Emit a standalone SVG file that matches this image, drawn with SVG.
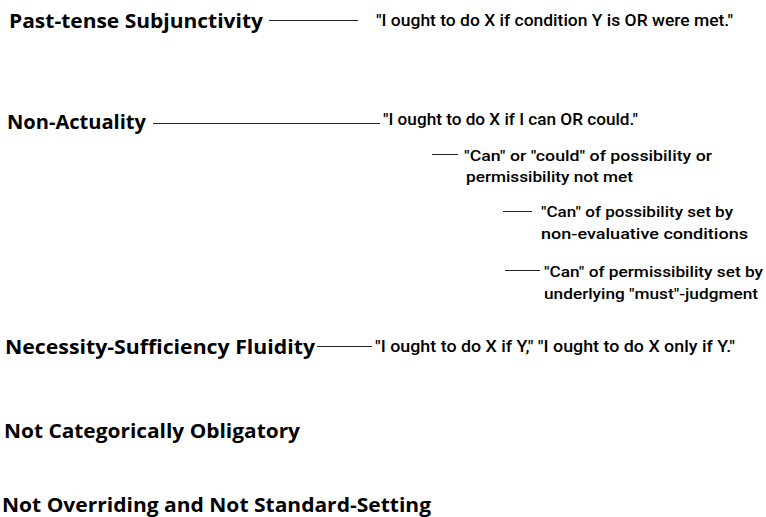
<svg xmlns="http://www.w3.org/2000/svg" width="766" height="517" viewBox="0 0 766 517">
<style>
.t{font-family:"Open Sans","Liberation Sans",Arial,sans-serif;font-weight:bold;font-size:20px;fill:#000}
.q{font-family:Roboto,"Open Sans","Liberation Sans",Arial,sans-serif;font-weight:500;font-size:17px;fill:#000}
.s{font-family:Roboto,"Open Sans","Liberation Sans",Arial,sans-serif;font-weight:500;font-size:14px;fill:#000}
.c line{stroke:#222;stroke-width:1}
</style>
<rect width="766" height="517" fill="#fff"/>
<g class="c" id="connectors">
<line x1="269" y1="20.5" x2="358" y2="20.5"/>
<line x1="153" y1="123.5" x2="380" y2="123.5"/>
<line x1="432" y1="154.5" x2="458" y2="154.5"/>
<line x1="503" y1="211.5" x2="532" y2="211.5"/>
<line x1="505" y1="270.5" x2="540" y2="270.5"/>
<line x1="317" y1="346.5" x2="372" y2="346.5"/>
</g>
<g id="past-tense"><text class="t" x="9" y="27.5" textLength="254" lengthAdjust="spacingAndGlyphs">Past-tense Subjunctivity</text></g>
<g id="past-tense-q"><text class="q" x="376" y="26" textLength="357" lengthAdjust="spacingAndGlyphs">"I ought to do X if condition Y is OR were met."</text></g>
<g id="non-actuality"><text class="t" x="7" y="129" textLength="139" lengthAdjust="spacingAndGlyphs">Non-Actuality</text></g>
<g id="non-actuality-q"><text class="q" x="383" y="125" textLength="255" lengthAdjust="spacingAndGlyphs">"I ought to do X if I can OR could."</text></g>
<g id="sub1"><text class="s" x="464" y="161" textLength="248" lengthAdjust="spacingAndGlyphs">"Can" or "could" of possibility or</text><text class="s" x="466" y="182" textLength="167" lengthAdjust="spacingAndGlyphs">permissibility not met</text></g>
<g id="sub2"><text class="s" x="541" y="217" textLength="192" lengthAdjust="spacingAndGlyphs">"Can" of possibility set by</text><text class="s" x="541" y="239" textLength="207" lengthAdjust="spacingAndGlyphs">non-evaluative conditions</text></g>
<g id="sub3"><text class="s" x="544" y="277" textLength="219" lengthAdjust="spacingAndGlyphs">"Can" of permissibility set by</text><text class="s" x="544" y="299" textLength="214" lengthAdjust="spacingAndGlyphs">underlying "must"-judgment</text></g>
<g id="necessity"><text class="t" x="5" y="354" textLength="310" lengthAdjust="spacingAndGlyphs">Necessity-Sufficiency Fluidity</text></g>
<g id="necessity-q"><text class="q" x="375" y="352" textLength="360" lengthAdjust="spacingAndGlyphs">"I ought to do X if Y," "I ought to do X only if Y."</text></g>
<g id="not-categorical"><text class="t" x="4" y="438" textLength="296" lengthAdjust="spacingAndGlyphs">Not Categorically Obligatory</text></g>
<g id="not-overriding"><text class="t" x="2" y="512" textLength="429" lengthAdjust="spacingAndGlyphs">Not Overriding and Not Standard-Setting</text></g>
</svg>
